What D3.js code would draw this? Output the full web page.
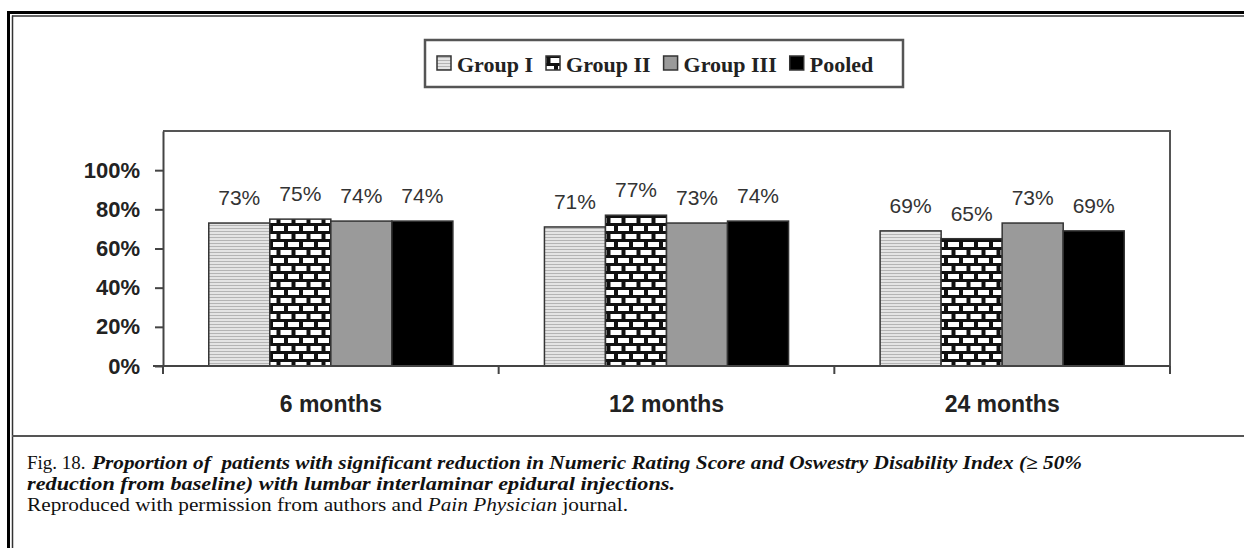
<!DOCTYPE html>
<html>
<head>
<meta charset="utf-8">
<script src="https://cdnjs.cloudflare.com/ajax/libs/d3/7.8.5/d3.min.js"></script>
<style>
  html, body { margin: 0; padding: 0; background: #fff; }
  svg { display: block; }
</style>
</head>
<body>
<div class="chart"></div>
<script>
// data
const categories = ["6 months", "12 months", "24 months"];
const groups = ["Group I", "Group II", "Group III", "Pooled"];
const groupI   = [0.73, 0.71, 0.69];
const groupII  = [0.75, 0.77, 0.65];
const groupIII = [0.74, 0.73, 0.73];
const pooled   = [0.74, 0.74, 0.69];
const yTicks = [0, 0.2, 0.4, 0.6, 0.8, 1.0];

const captionLine1a = "Fig. 18.";
const captionLine1b = "Proportion of\u00a0 patients with significant reduction in Numeric Rating Score and Oswestry Disability Index (\u2265 50%";
const captionLine2 = "reduction from baseline) with lumbar interlaminar epidural injections.";

const series = [groupI, groupII, groupIII, pooled];

const width = 1244, height = 548;

const svg = d3.select(".chart")
  .append("svg")
  .attr("width", width)
  .attr("height", height);

// patterns
const defs = svg.append("defs");

const stripes = defs.append("pattern")
  .attr("id", "stripes")
  .attr("patternUnits", "userSpaceOnUse")
  .attr("width", 6).attr("height", 3);
stripes.append("rect").attr("width", 6).attr("height", 3).attr("fill", "#e4e4e4");
stripes.append("rect").attr("width", 6).attr("height", 1).attr("fill", "#b4b4b4");

const brick = defs.append("pattern")
  .attr("id", "brick")
  .attr("patternUnits", "userSpaceOnUse")
  .attr("x", 1).attr("y", 0)
  .attr("width", 15).attr("height", 16);
brick.append("rect").attr("width", 15).attr("height", 16).attr("fill", "#111");
brick.append("rect").attr("x", 2).attr("y", 2).attr("width", 11).attr("height", 5).attr("fill", "#fff");
brick.append("rect").attr("x", -5.5).attr("y", 10).attr("width", 11).attr("height", 5).attr("fill", "#fff");
brick.append("rect").attr("x", 9.5).attr("y", 10).attr("width", 11).attr("height", 5).attr("fill", "#fff");

const fills = ["url(#stripes)", "url(#brick)", "#9a9a9a", "#000"];

// outer frame
svg.append("line").attr("x1", 8.5).attr("x2", 8.5).attr("y1", 11.5).attr("y2", height)
  .attr("stroke", "#000").attr("stroke-width", 3);
svg.append("line").attr("x1", 12.5).attr("x2", 12.5).attr("y1", 15.5).attr("y2", height)
  .attr("stroke", "#333").attr("stroke-width", 1.5);
svg.append("line").attr("x1", 7).attr("x2", width).attr("y1", 12.5).attr("y2", 12.5)
  .attr("stroke", "#000").attr("stroke-width", 3);
svg.append("line").attr("x1", 12).attr("x2", width).attr("y1", 16).attr("y2", 16)
  .attr("stroke", "#333").attr("stroke-width", 1.5);
svg.append("line").attr("x1", 12).attr("x2", width).attr("y1", 436).attr("y2", 436)
  .attr("stroke", "#555").attr("stroke-width", 2);

// scales
const plotLeft = 163, plotRight = 1170, plotTop = 131, plotBottom = 366;

const x0 = d3.scaleBand()
  .domain(categories)
  .range([plotLeft, plotRight])
  .paddingInner(0).paddingOuter(0);

const x1 = d3.scaleBand()
  .domain(groups)
  .range([0, x0.bandwidth()])
  .paddingInner(0).paddingOuter(0.75);

const y = d3.scaleLinear()
  .domain([0, 1.2])
  .range([plotBottom, plotTop]);

// plot frame (top + right)
svg.append("path")
  .attr("d", `M${plotLeft},${plotTop}H${plotRight}V${plotBottom + 8}`)
  .attr("fill", "none").attr("stroke", "#555").attr("stroke-width", 2);

// bars
const g = svg.append("g");
categories.forEach((c, ci) => {
  groups.forEach((grp, gi) => {
    const v = series[gi][ci];
    g.append("rect")
      .attr("x", x0(c) + x1(grp))
      .attr("y", y(v))
      .attr("width", x1.bandwidth())
      .attr("height", y(0) - y(v))
      .attr("fill", fills[gi])
      .attr("stroke", "#333")
      .attr("stroke-width", 1.5);
    g.append("text")
      .attr("x", x0(c) + x1(grp) + x1.bandwidth() / 2)
      .attr("y", y(v) - 18)
      .attr("text-anchor", "middle")
      .attr("font-family", "Liberation Sans, Arial, sans-serif")
      .attr("font-size", 21)
      .attr("fill", "#333")
      .text(d3.format(".0%")(v));
  });
});

// y axis
const yAxis = svg.append("g")
  .attr("transform", `translate(${plotLeft},0)`)
  .call(d3.axisLeft(y).tickValues(yTicks).tickFormat(d3.format(".0%")).tickSize(8).tickSizeOuter(0).tickPadding(15));
yAxis.select(".domain").attr("stroke", "#444").attr("stroke-width", 2);
yAxis.selectAll(".tick line").attr("stroke", "#444").attr("stroke-width", 2);
yAxis.selectAll(".tick text")
  .attr("font-family", "Liberation Sans, Arial, sans-serif")
  .attr("font-weight", "bold")
  .attr("font-size", 22)
  .attr("fill", "#222");

// x axis
const xAxis = svg.append("g")
  .attr("transform", `translate(0,${plotBottom})`)
  .call(d3.axisBottom(x0).tickSize(0));
xAxis.select(".domain").remove();
xAxis.selectAll(".tick text")
  .attr("dy", null)
  .attr("y", 46)
  .attr("font-family", "Liberation Sans, Arial, sans-serif")
  .attr("font-weight", "bold")
  .attr("font-size", 23)
  .attr("fill", "#222");
xAxis.append("line")
  .attr("x1", plotLeft - 10).attr("x2", plotRight)
  .attr("stroke", "#444").attr("stroke-width", 2);
const bounds = categories.map(c => x0(c)).concat([x0.range()[1]]);
xAxis.selectAll(".bound")
  .data(bounds)
  .enter().append("line")
  .attr("x1", d => d).attr("x2", d => d)
  .attr("y1", 0).attr("y2", 8)
  .attr("stroke", "#444").attr("stroke-width", 2);

// legend
const legend = svg.append("g");
legend.append("rect")
  .attr("x", 425).attr("y", 40).attr("width", 478).attr("height", 47)
  .attr("fill", "#fff").attr("stroke", "#555").attr("stroke-width", 2.5);
let lx = 437;
groups.forEach((grp, gi) => {
  legend.append("rect")
    .attr("x", lx).attr("y", 56).attr("width", 14).attr("height", 14)
    .attr("fill", fills[gi]).attr("stroke", "#333").attr("stroke-width", 1.5);
  const t = legend.append("text")
    .attr("x", lx + 20).attr("y", 72)
    .attr("font-family", "Liberation Serif, Times New Roman, serif")
    .attr("font-weight", "bold")
    .attr("font-size", 22)
    .attr("fill", "#222")
    .text(grp);
  lx += 20 + t.node().getComputedTextLength() + 13;
});

// caption
const cap = svg.append("g")
  .attr("font-family", "Liberation Serif, Times New Roman, serif")
  .attr("font-size", 19)
  .attr("fill", "#111");
cap.append("text").attr("x", 27).attr("y", 469).text(captionLine1a);
cap.append("text").attr("x", 92).attr("y", 469)
  .attr("font-weight", "bold").attr("font-style", "italic")
  .attr("textLength", 990).attr("lengthAdjust", "spacingAndGlyphs")
  .text(captionLine1b);
cap.append("text").attr("x", 27).attr("y", 490)
  .attr("font-weight", "bold").attr("font-style", "italic")
  .attr("textLength", 648).attr("lengthAdjust", "spacingAndGlyphs")
  .text(captionLine2);
const l3 = cap.append("text").attr("x", 27).attr("y", 511)
  .attr("textLength", 601).attr("lengthAdjust", "spacingAndGlyphs");
l3.append("tspan").text("Reproduced with permission from authors and ");
l3.append("tspan").attr("font-style", "italic").text("Pain Physician");
l3.append("tspan").text(" journal.");
</script>
</body>
</html>
